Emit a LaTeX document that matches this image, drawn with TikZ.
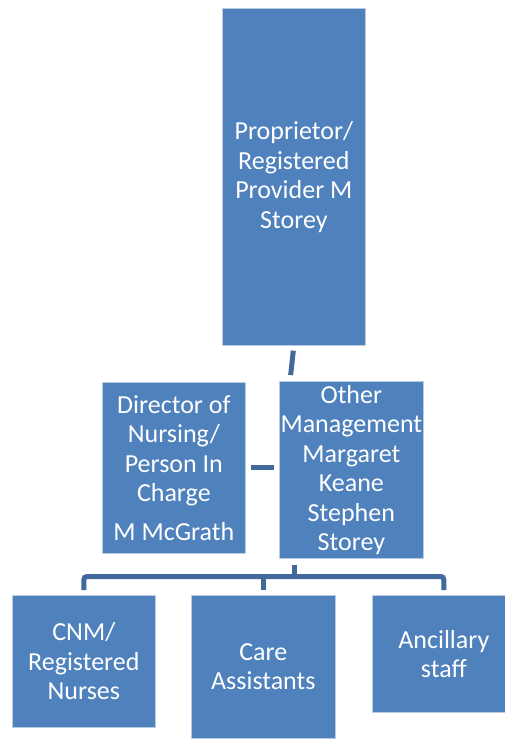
\documentclass[tikz,border=0pt]{standalone}
\usepackage{fontspec}
\setmainfont{Carlito}
\usepackage{tikz}
\usetikzlibrary{calc}

\definecolor{orgblue}{HTML}{4F81BD}
\definecolor{linkblue}{HTML}{41699B}
\definecolor{edgeblue}{HTML}{B9CCE4}

\begin{document}
\begin{tikzpicture}[x=1pt, y=-1pt,
    box/.style={fill=orgblue, draw=edgeblue, line width=0.7pt, text=white,
        anchor=north west, inner sep=0pt, align=center,
        font=\fontsize{26}{29.5}\selectfont},
    link/.style={draw=linkblue, line width=5pt}]
    % Page
    \clip (0, 0) rectangle (505, 740);

    % Boxes
    \node[box, minimum width=143, minimum height=337] (prop) at (222, 8)
        {Proprietor/\\Registered\\Provider M\\Storey};
    \node[box, minimum width=143, minimum height=171] (dir) at (102, 382)
        {Director of\\Nursing/\\Person In\\Charge\\[9pt]M McGrath};
    \node[box, minimum width=144, minimum height=177] (other) at (279, 381)
        {Other\\Management\\Margaret\\Keane\\Stephen\\Storey};
    \node[box, minimum width=143, minimum height=132] (cnm) at (12, 595)
        {CNM/\\Registered\\Nurses};
    \node[box, minimum width=144, minimum height=143] (care) at (191, 595)
        {Care\\Assistants};
    \node[box, minimum width=143, minimum height=117] (anc) at (372, 595)
        {Ancillary\\staff};

    % Connectors
    \coordinate (kink) at (290, 381);
    \coordinate (bar) at (294, 576.5);
    \draw[link, shorten <=5pt, shorten >=6pt] (prop.south) -- (kink);
    \draw[link, shorten <=5pt, shorten >=5pt] (dir.east) -- (dir.east -| other.west);
    \draw[link, shorten <=6pt] (bar |- other.south) -- (bar);
    \draw[link, rounded corners=3pt, shorten <=5pt, shorten >=5pt]
        (cnm.north) |- (bar) -| (anc.north);
    \draw[link, shorten >=5pt] (care.north |- bar) -- (care.north);

\end{tikzpicture}
\end{document}
